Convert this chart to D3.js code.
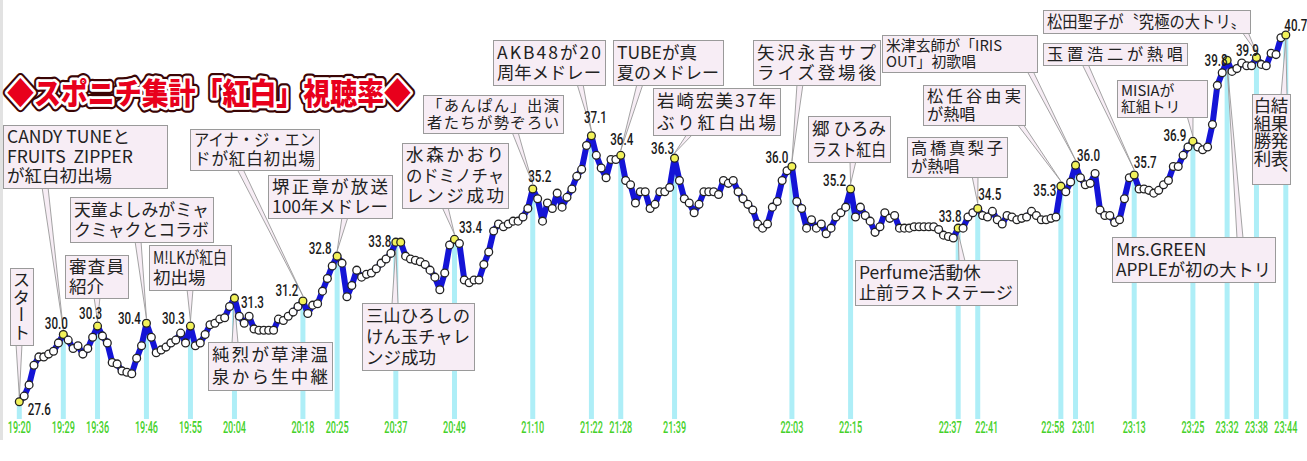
<!DOCTYPE html>
<head>
  <meta charset="utf-8">
  <script src="https://d3js.org/d3.v7.min.js"></script>
  <style>
    body { margin:0; background:#fff; }
    svg { display:block; }
  </style>
</head>
<body>
  <svg width="1307" height="461"></svg>
  <script>
    // minute-by-minute ratings, 19:20 - 23:44 (news break 20:55-20:59 not plotted)
    var startTime = "19:20";
    var breakFrom = "20:55";
    var breakTo = "20:59";
    var ratings = [
      27.6, 27.8, 28.2, 28.9, 29.2, 29.2, 29.3, 29.4, 29.7, 30.0,
      29.8, 29.5, 29.6, 29.3, 29.5, 29.9, 30.3, 29.95, 29.7, 29.0,
      28.95, 28.7, 28.65, 28.6, 29.15, 29.6, 30.4, 29.9, 29.35, 29.45,
      29.55, 29.7, 29.8, 30.05, 29.7, 30.3, 29.6, 29.7, 30.0, 30.35,
      30.4, 30.55, 30.6, 31.0, 31.3, 30.65, 30.4, 30.65, 30.2, 30.15,
      30.15, 30.15, 30.15, 30.55, 30.5, 30.65, 30.8, 31.0, 31.2, 30.75,
      31.05, 31.1, 31.55, 32.0, 32.45, 32.8, 32.55, 31.35, 31.75, 32.3,
      32.05, 32.15, 32.2, 32.35, 32.55, 32.7, 32.9, 33.3, 33.3, 32.8,
      32.7, 32.65, 32.6, 32.5, 32.3, 32.05, 31.6, 32.2, 33.2, 33.4,
      33.25, 31.95, 31.85, 31.95, 31.95, 32.5, 32.95, 33.7, 33.95, 33.85,
      33.95, 34.05, 34.05, 34.2, 34.5, 35.2, 34.85, 34.05, 34.7, 34.5,
      35.05, 34.55, 34.9, 35.2, 35.65, 35.9, 36.75, 37.1, 36.4, 35.95,
      35.6, 36.25, 36.25, 36.4, 35.5, 35.35, 34.7, 35.1, 35.1, 34.5,
      34.65, 35.1, 35.1, 35.25, 36.3, 35.5, 34.85, 34.7, 34.35, 34.65,
      35.1, 35.1, 35.1, 35.0, 35.5, 35.4, 35.5, 35.1, 34.85, 34.65,
      34.45, 33.95, 33.8, 33.95, 34.55, 34.75, 35.5, 35.85, 36.0, 34.75,
      34.5, 33.8, 34.1, 33.8, 33.95, 33.6, 33.8, 34.2, 34.35, 34.55,
      35.2, 34.2, 34.55, 34.25, 34.05, 33.65, 33.85, 34.35, 34.15, 34.25,
      33.8, 33.8, 33.8, 33.85, 33.85, 33.85, 33.85, 33.85, 33.75, 33.55,
      33.5, 33.45, 33.8, 33.8, 34.2, 34.35, 34.5, 34.25, 34.2, 34.4,
      34.1, 33.95, 34.25, 34.2, 34.1, 34.15, 34.2, 34.4, 34.25, 34.1,
      34.1, 34.15, 34.2, 35.3, 35.1, 35.45, 36.05, 35.6, 35.35, 35.4,
      35.75, 34.45, 34.25, 34.25, 34.0, 34.1, 34.85, 35.6, 35.7, 35.2,
      35.2, 35.15, 35.05, 35.15, 35.35, 35.5, 36.0, 36.0, 36.4, 36.7,
      36.9, 36.7, 36.6, 36.7, 37.5, 38.9, 39.35, 39.8, 39.4, 39.5,
      39.7, 39.6, 39.6, 39.9, 39.65, 39.6, 40.05, 40.0, 40.6, 40.7
    ];

    // highlighted minutes and their printed values
    var markTimes = ["19:20","19:29","19:36","19:46","19:55","20:04","20:18","20:25","20:37","20:49",
                     "21:10","21:22","21:28","21:39","22:03","22:15","22:37","22:41","22:58","23:01",
                     "23:13","23:25","23:32","23:38","23:44"];
    var markLabels = ["27.6","30.0","30.3","30.4","30.3","31.3","31.2","32.8","33.8","33.4",
                      "35.2","37.1","36.4","36.3","36.0","35.2","33.8","34.5","35.3","36.0",
                      "35.7","36.9","39.8","39.9","40.7"];
    var extraMarks = ["20:38"];

    var noteTimes = ["19:20","19:29","19:36","19:46","19:55","20:18","20:25","20:04","20:37","20:49",
                     "21:10","21:22","21:28","21:39","22:03","22:15","22:37","22:41","22:58","23:01",
                     "23:13","23:38","23:25","23:32","23:44"];
    var noteTexts = [
      ["スタート"],
      ["CANDY TUNEと", "FRUITS  ZIPPER", "が紅白初出場"],
      ["審査員", "紹介"],
      ["天童よしみがミャ", "クミャクとコラボ"],
      ["M!LKが紅白", "初出場"],
      ["アイナ・ジ・エン", "ドが紅白初出場"],
      ["堺正章が放送", "100年メドレー"],
      ["純烈が草津温", "泉から生中継"],
      ["三山ひろしの", "けん玉チャレ", "ンジ成功"],
      ["水森かおり", "のドミノチャ", "レンジ成功"],
      ["「あんぱん」出演", "者たちが勢ぞろい"],
      ["AKB48が20", "周年メドレー"],
      ["TUBEが真", "夏のメドレー"],
      ["岩崎宏美37年", "ぶり紅白出場"],
      ["矢沢永吉サプ", "ライズ登場後"],
      ["郷 ひろみ", "ラスト紅白"],
      ["Perfume活動休", "止前ラストステージ"],
      ["高橋真梨子", "が熱唱"],
      ["松任谷由実", "が熱唱"],
      ["米津玄師が「IRIS", "OUT」初歌唱"],
      ["玉置浩二が熱唱"],
      ["松田聖子が〝究極の大トリ〟"],
      ["MISIAが", "紅組トリ"],
      ["Mrs.GREEN", "APPLEが初の大トリ"],
      ["結果発表、", "白組勝利"]
    ];

    // layout only: box x, y, w, h, side the pointer leaves from, pointer x, vertical text
    var noteBoxes = [
      [10,268,23,77,"b",19,true],
      [3,125,164,63,"b",45],
      [65,255,63,43,"b",97],
      [70,197,143,45,"b",138],
      [149,245,82,45,"b",190],
      [190,129,129,41,"b",240],
      [268,175,124,43,"b",345],
      [208,342,124,48,"t",235],
      [362,303,112,67,"t",395],
      [402,143,106,65,"b",445],
      [423,95,140,38,"b",515],
      [493,40,112,45,"b",580],
      [613,40,110,45,"b",640],
      [653,88,127,47,"b",690],
      [753,40,127,45,"b",800],
      [808,116,82,46,"b",853],
      [855,260,162,45,"t",962],
      [907,137,100,40,"b",975],
      [923,85,102,40,"b",1020],
      [882,35,155,37,"b",1030],
      [1043,43,144,22,"b",1085],
      [1043,10,207,23,"b",1245],
      [1117,80,90,37,"b",1190],
      [1112,237,163,45,"t",1240],
      [1252,94,38,90,"t",1284,true]
    ];
    // value label offsets from the point (centre x, baseline y)
    var labelOffsets = [[20,13],[-7,-6],[-7,-7],[-17,1],[-17,-2],[18,10],[-16,-5],[-17,-2],[-16,5],[16,-6],
                        [7,-7],[4,-13],[1,-10],[-12,-4],[-15,-4],[-16,-3],[-8,-6],[12,-9],[-16,10],[13,-4],
                        [11,-7],[-18,0],[-11,6],[-9,-1],[10,-4]];
    // time label nudges where two marks sit close together
    var timeShift = {"22:37": -8, "22:41": 9, "22:58": -8, "23:01": 8};

    function toMin(t) { var p = t.split(":"); return +p[0] * 60 + +p[1]; }
    var gap = toMin(breakTo) - toMin(breakFrom) + 1;
    function idx(t) {
      var m = toMin(t) - toMin(startTime);
      return toMin(t) > toMin(breakTo) ? m - gap : m;
    }

    var svg = d3.select("svg");
    var x = d3.scaleLinear().domain([0, ratings.length - 1]).range([19.3, 1285.8]);
    var y = d3.scaleLinear().domain([27.6, 40.7]).range([401.7, 35]);
    var jp = "'Noto Sans CJK JP', sans-serif";
    var boxFill = "#f7edf5";

    svg.append("rect").attr("x", 0).attr("y", 0).attr("width", 3).attr("height", 440).attr("fill", "#e2e2e2");

    // cyan drop lines
    var marks = markTimes.map(function(t, k) { return {i: idx(t), label: markLabels[k], off: labelOffsets[k], t: t}; });
    svg.append("g").selectAll("line").data(marks).enter().append("line")
      .attr("x1", d => x(d.i)).attr("x2", d => x(d.i))
      .attr("y1", d => y(ratings[d.i]) + 3).attr("y2", 419)
      .attr("stroke", "#aeeef7").attr("stroke-width", 5);

    // time labels
    svg.append("g").selectAll("text").data(marks).enter().append("text")
      .attr("x", d => x(d.i) + (timeShift[d.t] || 0)).attr("y", 433)
      .attr("text-anchor", "middle")
      .attr("font-family", "Roboto, sans-serif").attr("font-size", 16).attr("font-weight", 500)
      .attr("textLength", 23).attr("lengthAdjust", "spacingAndGlyphs")
      .attr("fill", "#45d12a")
      .text(d => d.t);

    // pointers
    var notes = noteTimes.map(function(t, k) { return {i: idx(t), lines: noteTexts[k], b: noteBoxes[k]}; });
    svg.append("g").selectAll("path").data(notes).enter().append("path")
      .attr("d", function(d) {
        var b = d.b, px = x(d.i), py = y(ratings[d.i]);
        var ey = b[4] === "b" ? b[1] + b[3] - 1 : b[1] + 1;
        var ty = b[4] === "b" ? py - 5 : py + 5;
        return "M" + (b[5] - 3) + "," + ey + "L" + px + "," + ty + "L" + (b[5] + 3) + "," + ey + "Z";
      })
      .attr("fill", boxFill).attr("stroke", "#9a9a9a").attr("stroke-width", 0.9);

    // rating line and dots
    svg.append("path").datum(ratings)
      .attr("d", d3.line().x((d, i) => x(i)).y(d => y(d)))
      .attr("fill", "none").attr("stroke", "#1414d6").attr("stroke-width", 6)
      .attr("stroke-linejoin", "round");

    var hi = new Set(markTimes.concat(extraMarks).map(idx));
    svg.append("g").selectAll("circle").data(ratings).enter().append("circle")
      .attr("cx", (d, i) => x(i)).attr("cy", d => y(d)).attr("r", 3.9)
      .attr("fill", (d, i) => hi.has(i) ? "#f2f25a" : "#fff")
      .attr("stroke", "#222").attr("stroke-width", 1.3);

    // annotation boxes
    var ng = svg.append("g").selectAll("g").data(notes).enter().append("g");
    ng.append("rect")
      .attr("x", d => d.b[0] + 0.5).attr("y", d => d.b[1] + 0.5)
      .attr("width", d => d.b[2]).attr("height", d => d.b[3])
      .attr("fill", boxFill).attr("stroke", "#9a9a9a").attr("stroke-width", 1);

    ng.each(function(d) {
      var g = d3.select(this), b = d.b;
      if (b[6]) {
        var cols = d.lines.length, cw = (b[2] - 4) / cols;
        d.lines.forEach(function(s, k) {
          g.append("text")
            .attr("x", b[0] + b[2] - 2 - cw * (k + 0.5)).attr("y", b[1] + 3)
            .attr("font-family", jp).attr("font-size", 17.5).attr("fill", "#222")
            .style("writing-mode", "vertical-rl")
            .text(s);
        });
        return;
      }
      var n = d.lines.length, lh = (b[3] - 4) / n, fs = Math.min(17.5, lh * 0.9);
      var avail = b[2] - 8;
      d.lines.forEach(function(s, k) {
        var t = g.append("text")
          .attr("x", b[0] + 4).attr("y", b[1] + 2 + lh * (k + 0.5))
          .attr("dy", "0.36em")
          .attr("font-family", jp).attr("font-size", fs).attr("fill", "#222")
          .style("white-space", "pre")
          .text(s);
        var w = t.node().getComputedTextLength();
        if (w > avail * 0.82) t.attr("textLength", avail).attr("lengthAdjust", w > avail ? "spacingAndGlyphs" : "spacing");
      });
    });

    // printed values
    svg.append("g").selectAll("text").data(marks).enter().append("text")
      .attr("x", d => x(d.i) + d.off[0]).attr("y", d => y(ratings[d.i]) + d.off[1])
      .attr("text-anchor", "middle")
      .attr("font-family", "Roboto, sans-serif").attr("font-size", 16.5).attr("font-weight", 500)
      .attr("textLength", 23).attr("lengthAdjust", "spacingAndGlyphs")
      .attr("fill", "#1a1a1a")
      .text(d => d.label);

    // title
    var title = "◆スポニチ集計「紅白」視聴率◆";
    var tg = svg.append("g");
    [["#3a0505", 10], ["#fff", 5.5], ["none", 0]].forEach(function(p) {
      tg.append("text")
        .attr("x", 7).attr("y", 104)
        .attr("font-family", jp).attr("font-size", 30).attr("font-weight", 900)
        .attr("textLength", 404).attr("lengthAdjust", "spacingAndGlyphs")
        .attr("fill", "#e8001c")
        .attr("stroke", p[0]).attr("stroke-width", p[1]).attr("stroke-linejoin", "round")
        .text(title);
    });
  </script>
</body>
